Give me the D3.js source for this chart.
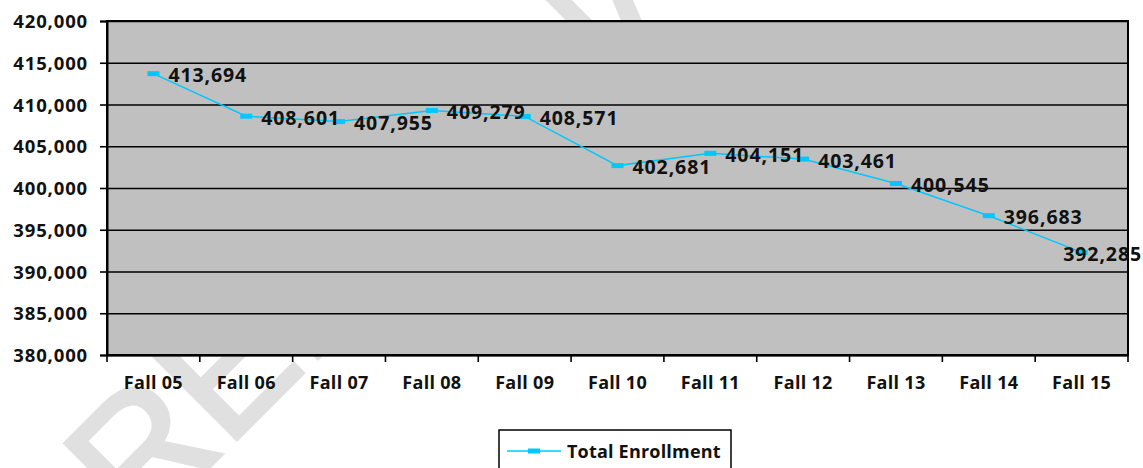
<!DOCTYPE html>
<html>
<head>
<meta charset="utf-8">
<script src="https://cdn.jsdelivr.net/npm/d3@7"></script>
<style>
  body { margin: 0; background: #fff; }
  text { font-family: "Open Sans", sans-serif; font-weight: 700; fill: #111; }
  .axis path, .axis line { stroke: #000; }
</style>
</head>
<body>
<div id="chart"></div>
<script>
// chart values
var terms = ["Fall 05", "Fall 06", "Fall 07", "Fall 08", "Fall 09", "Fall 10",
             "Fall 11", "Fall 12", "Fall 13", "Fall 14", "Fall 15"];
var enrollment = [413694, 408601, 407955, 409279, 408571, 402681,
                  404151, 403461, 400545, 396683, 392285];
var yTicks = [380000, 385000, 390000, 395000, 400000, 405000, 410000, 415000, 420000];
var seriesName = "Total Enrollment";

var W = 1143, H = 468;
var plot = {left: 107, top: 21, right: 1128, bottom: 355};
var lineColour = "#00c8ff";

var svg = d3.select("#chart")
            .append("svg")
              .attr("width", W)
              .attr("height", H);

// faint watermark, mostly hidden behind the plot
svg.append("text")
    .attr("transform", "translate(58,618) rotate(-45)")
    .style("font-family", "'Liberation Sans', sans-serif")
    .style("font-weight", 400)
    .style("font-size", "172px")
    .style("fill", "#e0e0e0")
    .style("stroke", "#e0e0e0")
    .style("stroke-width", 4)
    .text("PRELIMINARY");

var xScale = d3.scaleBand()
                .domain(terms)
                .range([plot.left, plot.right])
                .padding(0);

var yScale = d3.scaleLinear()
                .domain([380000, 420000])
                .range([plot.bottom, plot.top]);

// plot background
svg.append("rect")
    .attr("x", plot.left)
    .attr("y", plot.top)
    .attr("width", plot.right - plot.left)
    .attr("height", plot.bottom - plot.top)
    .attr("fill", "#c0c0c0")
    .attr("stroke", "#000")
    .attr("stroke-width", 2);

// gridlines
svg.append("g")
    .attr("class", "grid")
    .attr("transform", "translate(" + plot.left + ",0)")
    .call(d3.axisLeft(yScale).tickValues(yTicks).tickSize(-(plot.right - plot.left)).tickFormat(""))
    .call(function(g) { g.select(".domain").remove(); })
    .selectAll("line")
      .attr("stroke", "#000")
      .attr("stroke-width", 1.6);

// y axis
svg.append("g")
    .attr("class", "axis y-axis")
    .attr("transform", "translate(" + plot.left + ",0)")
    .call(d3.axisLeft(yScale).tickValues(yTicks).tickSize(7).tickPadding(12).tickFormat(d3.format(",")))
    .call(function(g) {
      g.select(".domain").attr("stroke-width", 2);
      g.selectAll("line").attr("stroke-width", 1.6);
      g.selectAll("text")
        .style("font-size", "18.5px")
        .style("letter-spacing", "0.85px")
        .attr("dy", "0.36em");
    });

// x axis: labels at band centres, ticks on band edges
svg.append("g")
    .attr("class", "axis x-axis")
    .attr("transform", "translate(0," + plot.bottom + ")")
    .call(d3.axisBottom(xScale).tickSize(0).tickPadding(21))
    .call(function(g) {
      g.select(".domain").attr("stroke-width", 2);
      g.selectAll("text")
        .style("font-size", "18px")
        .style("letter-spacing", "0.3px");
    });

svg.append("g")
    .attr("class", "x-ticks")
    .selectAll("line")
    .data(terms.concat([null]))
    .enter()
   .append("line")
    .attr("x1", function(d) { return d === null ? plot.right : xScale(d); })
    .attr("x2", function(d) { return d === null ? plot.right : xScale(d); })
    .attr("y1", plot.bottom)
    .attr("y2", plot.bottom + 7)
    .attr("stroke", "#000")
    .attr("stroke-width", 1.6);

var points = terms.map(function(t, i) {
  return {term: t, value: enrollment[i]};
});

var cx = function(d) { return xScale(d.term) + xScale.bandwidth() / 2; };
var cy = function(d) { return yScale(d.value); };

// series line
svg.append("path")
    .datum(points)
    .attr("fill", "none")
    .attr("stroke", lineColour)
    .attr("stroke-width", 1.5)
    .attr("d", d3.line().x(cx).y(cy));

// markers
svg.selectAll(".marker")
    .data(points)
    .enter()
   .append("rect")
    .attr("class", "marker")
    .attr("x", function(d) { return cx(d) - 6; })
    .attr("y", function(d) { return cy(d) - 2.5; })
    .attr("width", 12)
    .attr("height", 5)
    .attr("fill", lineColour);

// data labels
var fmt = d3.format(",");
var labels = svg.selectAll(".data-label")
    .data(points)
    .enter()
   .append("text")
    .attr("class", "data-label")
    .attr("x", function(d) { return cx(d) + 15; })
    .attr("y", function(d) { return cy(d) + 8.5; })
    .style("font-size", "19.5px")
    .style("letter-spacing", "0.9px")
    .text(function(d) { return fmt(d.value); });

// keep labels inside the page
labels.each(function() {
  var box = this.getBBox();
  if (box.x + box.width > W - 1) {
    d3.select(this).attr("x", W - 1 - box.width);
  }
});

// legend
var legend = svg.append("g")
                  .attr("class", "legend")
                  .attr("transform", "translate(499,430)");

legend.append("rect")
        .attr("width", 232)
        .attr("height", 50)
        .attr("fill", "#fff")
        .attr("stroke", "#000")
        .attr("stroke-width", 1.5);

legend.append("line")
        .attr("x1", 8)
        .attr("x2", 62)
        .attr("y1", 21)
        .attr("y2", 21)
        .attr("stroke", lineColour)
        .attr("stroke-width", 1.5);

legend.append("rect")
        .attr("x", 29)
        .attr("y", 18.5)
        .attr("width", 12)
        .attr("height", 5)
        .attr("fill", lineColour);

legend.append("text")
        .attr("x", 68)
        .attr("y", 28)
        .style("font-size", "18px")
        .style("letter-spacing", "0.2px")
        .text(seriesName);
</script>
</body>
</html>
